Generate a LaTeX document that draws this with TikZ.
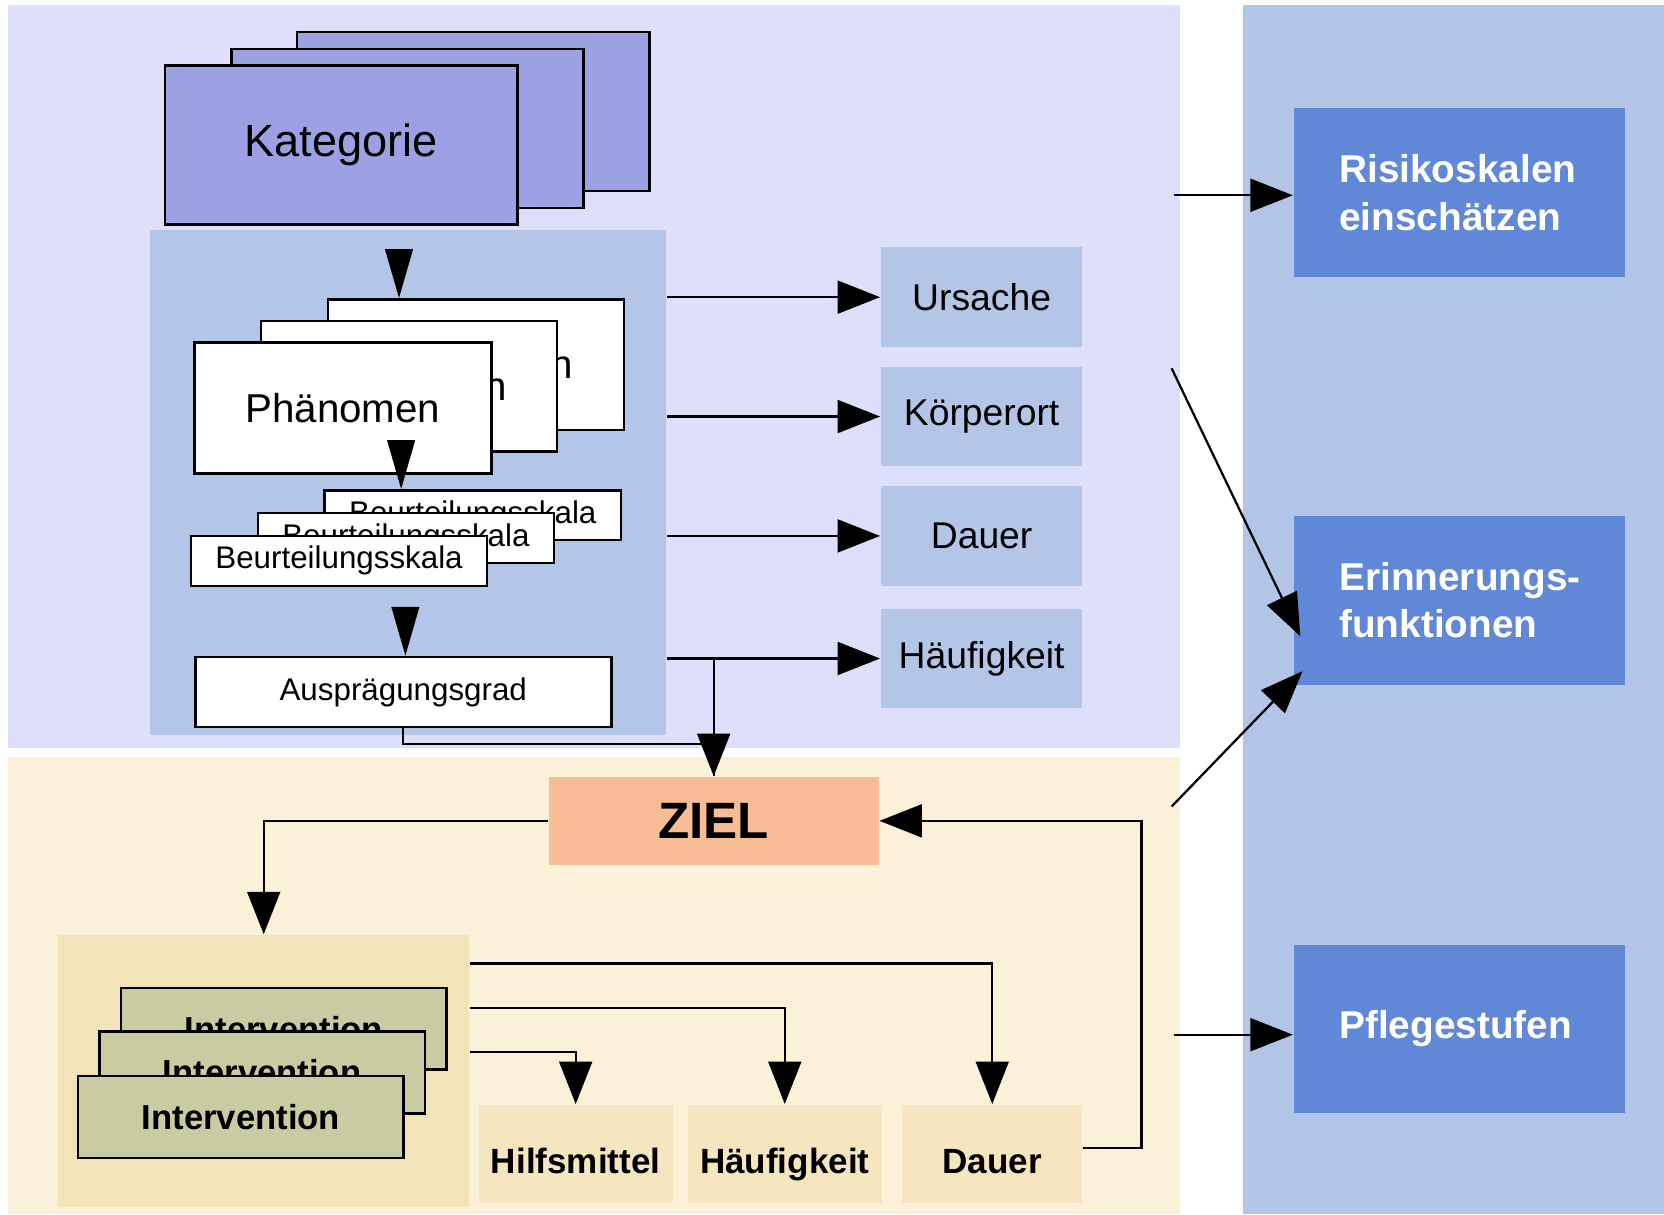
\documentclass[tikz,border=0pt]{standalone}
\usepackage{fontspec}
\setmainfont{Liberation Sans}
\usepackage{tikz}
\usetikzlibrary{
    positioning,
    calc,
    arrows.meta
}
\usepackage{xcolor}

\definecolor{lavendel}{HTML}{DEDFFB}
\definecolor{creme}{HTML}{FBF1D9}
\definecolor{spalte}{HTML}{B2C5E6}
\definecolor{graublau}{HTML}{B3C6E7}
\definecolor{katblau}{HTML}{9BA1E2}
\definecolor{dunkelblau}{HTML}{6088D6}
\definecolor{lachs}{HTML}{F8BD95}
\definecolor{sand}{HTML}{F3E3B8}
\definecolor{oliv}{HTML}{C9CBA2}
\definecolor{beige}{HTML}{F5E6C0}

\begin{document}
\begin{tikzpicture}[x=0.1mm, y=-0.1mm]
  % Define styles
  \tikzset{
    pfeil/.style={-{Triangle[length=4mm, width=3.1mm]}, line width=0.6pt},
    kpfeil/.style={-{Triangle[length=4.6mm, width=2.6mm]}, line width=0.6pt},
    karte/.style={draw, line width=0.7pt, inner sep=0pt},
    merkmal/.style={fill=graublau, minimum width=19mm, minimum height=9.4mm,
      font=\fontsize{10}{12}\selectfont},
    massnahme/.style={fill=beige, minimum width=17.3mm, minimum height=9.3mm,
      text height=4.2mm, text depth=0.6mm,
      font=\bfseries\fontsize{9.4}{11}\selectfont},
    ergebnis/.style={fill=dunkelblau, text=white, align=left, text width=22.6mm,
      inner xsep=4.3mm, minimum height=15.9mm,
      font=\bfseries\fontsize{10.4}{12.8}\selectfont}
  };

  \useasboundingbox (0,0) rectangle (1568,1144);

  % Background areas
  \fill[white] (0,0) rectangle (1568,1144);
  \fill[lavendel] (8,5) rectangle (1112,705);
  \fill[creme] (8,713) rectangle (1112,1144);
  \fill[spalte] (1171,5) rectangle (1568,1144);

  % Kategorie stack
  \node[karte, fill=katblau, minimum width=33.2mm, minimum height=15mm] (kat3) at (446,105) {};
  \node[karte, fill=katblau, minimum width=33.2mm, minimum height=15mm] (kat2) at (384,121) {};
  \node[karte, fill=katblau, minimum width=33.2mm, minimum height=15mm,
    font=\fontsize{12.1}{14}\selectfont] (kat1) at (321.5,136.5) {Kategorie};

  % Panel with Phaenomen, Beurteilungsskala, Auspraegungsgrad
  \node[fill=graublau, minimum width=48.7mm, minimum height=47.6mm] (phaenpanel) at (384.5,455) {};

  \node[karte, fill=white, minimum width=27.9mm, minimum height=12.3mm,
    font=\fontsize{10.8}{13}\selectfont] (ph3) at (448.5,343.5) {Phänomen};
  \node[karte, fill=white, minimum width=27.9mm, minimum height=12.3mm,
    font=\fontsize{10.8}{13}\selectfont] (ph2) at (385.5,364) {Phänomen};
  \node[karte, fill=white, minimum width=28mm, minimum height=12.3mm,
    font=\fontsize{10.8}{13}\selectfont] (ph1) at (323,384.5) {Phänomen};

  \node[karte, fill=white, minimum width=27.9mm, minimum height=4.7mm,
    font=\fontsize{8.4}{10}\selectfont] (bs3) at (445.5,485.5) {Beurteilungsskala};
  \node[karte, fill=white, minimum width=27.9mm, minimum height=4.7mm,
    font=\fontsize{8.4}{10}\selectfont] (bs2) at (382.5,507) {Beurteilungsskala};
  \node[karte, fill=white, minimum width=27.9mm, minimum height=4.7mm,
    font=\fontsize{8.4}{10}\selectfont] (bs1) at (319.5,528.5) {Beurteilungsskala};

  \node[karte, fill=white, minimum width=39.2mm, minimum height=6.6mm,
    font=\fontsize{8.4}{10}\selectfont] (ausp) at (380,652) {Ausprägungsgrad};

  % Arrow heads inside the panel
  \coordinate (d1) at (376,236);
  \coordinate (d2) at (378,417);
  \coordinate (d3) at (382,573);
  \draw[kpfeil] (d1) -- (d1 |- ph3.north);
  \draw[kpfeil] (d2) -- (d2 |- bs3.north);
  \draw[kpfeil] (d3) -- (d3 |- ausp.north);

  % Merkmale on the right of the panel
  \node[merkmal] (ursache) at (925,280) {Ursache};
  \node[merkmal] (koerperort) at (925,392.5) {Körperort};
  \node[merkmal] (dauer) at (925,505) {Dauer};
  \node[merkmal] (haeufigkeit) at (925,620.5) {Häufigkeit};

  \draw[pfeil] (ursache.west -| phaenpanel.east) -- (ursache.west);
  \draw[pfeil] (koerperort.west -| phaenpanel.east) -- (koerperort.west);
  \draw[pfeil] (dauer.west -| phaenpanel.east) -- (dauer.west);
  \draw[pfeil] (haeufigkeit.west -| phaenpanel.east) -- (haeufigkeit.west);

  % Ziel
  \node[fill=lachs, minimum width=31.1mm, minimum height=8.3mm,
    font=\bfseries\fontsize{13.7}{16}\selectfont] (ziel) at (672.5,773.5) {ZIEL};

  \draw[pfeil] (haeufigkeit.west -| ziel.north) -- (ziel.north);
  \draw[line width=0.6pt] (ausp.south) -- ++(0,15) -| (ziel.north);

  % Intervention stack
  \node[fill=sand, minimum width=38.7mm, minimum height=25.6mm] (intpanel) at (248.5,1009) {};

  \node[karte, fill=oliv, minimum width=30.7mm, minimum height=7.7mm,
    font=\bfseries\fontsize{9.3}{11}\selectfont] (iv3) at (267.5,969.5) {Intervention};
  \node[karte, fill=oliv, minimum width=30.7mm, minimum height=7.7mm,
    font=\bfseries\fontsize{9.3}{11}\selectfont] (iv2) at (247,1010.5) {Intervention};
  \node[karte, fill=oliv, minimum width=30.7mm, minimum height=7.7mm,
    font=\bfseries\fontsize{9.3}{11}\selectfont] (iv1) at (227,1052.5) {Intervention};

  \draw[pfeil] (ziel.west) -| (intpanel.north);

  % Massnahmen below
  \node[massnahme] (hilfsmittel) at (542.5,1087.5) {Hilfsmittel};
  \node[massnahme] (haeufigkeit2) at (739.5,1087.5) {Häufigkeit};
  \node[massnahme, minimum width=17mm] (dauer2) at (935,1087.5) {Dauer};

  \draw[pfeil] ($(intpanel.east)+(0,-18)$) -| (hilfsmittel.north);
  \draw[pfeil] ($(intpanel.east)+(0,-59)$) -| (haeufigkeit2.north);
  \draw[pfeil] ($(intpanel.east)+(0,-101)$) -| (dauer2.north);

  % Feedback to Ziel
  \draw[pfeil] ([yshift=0.6mm]dauer2.east) -- ++(55,0) |- (ziel.east);

  % Right column
  \node[ergebnis] (risiko) at (1375,181.5) {Risikoskalen\\einschätzen};
  \node[ergebnis] (erinnerung) at (1375,565.5) {\mbox{Erinnerungs-}\\funktionen};
  \node[ergebnis] (pflege) at (1375,969.5) {Pflegestufen};

  \coordinate (r1) at (1106,184);
  \coordinate (r2) at (1104,347);
  \coordinate (r3) at (1104,760);
  \coordinate (r4) at (1106,975);
  \draw[pfeil] (r1) -- (r1 -| risiko.west);
  \draw[pfeil] (r2) -- ([xshift=0.7mm, yshift=-3.4mm]erinnerung.west);
  \draw[pfeil] (r3) -- ([xshift=0.9mm, yshift=-6.7mm]erinnerung.west);
  \draw[pfeil] (r4) -- (r4 -| pflege.west);
\end{tikzpicture}
\end{document}
